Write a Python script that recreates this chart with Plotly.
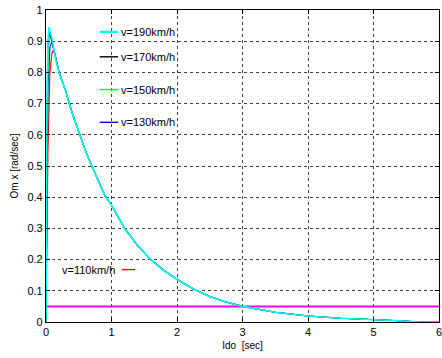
import plotly.graph_objects as go

# shared decay tail (x in sec, y in rad/sec)
tail_x = [0.2, 0.3, 0.4, 0.5, 0.6, 0.7, 0.8, 0.9, 1.0, 1.2, 1.4, 1.6, 1.8, 2.0,
          2.25, 2.5, 2.75, 3.0, 3.5, 4.0, 4.5, 5.0, 5.4, 5.7, 6.0]
tail_y = [0.80, 0.74, 0.67, 0.61, 0.55, 0.50, 0.45, 0.405, 0.375, 0.30, 0.245, 0.20,
          0.165, 0.137, 0.106, 0.082, 0.064, 0.050, 0.031, 0.019, 0.012, 0.008,
          0.004, 0.0, 0.0]

labels = ["v=110km/h", "v=130km/h", "v=150km/h", "v=170km/h", "v=190km/h"]
colors = ["#ff0000", "#0000ff", "#00ff00", "#000000", "#00ffff"]

head_x_110 = [0.0, 0.01, 0.03, 0.06, 0.09, 0.12, 0.16]
head_y_110 = [0.0, 0.20, 0.55, 0.80, 0.86, 0.875, 0.84]
head_x_130 = [0.0, 0.01, 0.03, 0.06, 0.09, 0.13, 0.16]
head_y_130 = [0.0, 0.30, 0.75, 0.88, 0.90, 0.86, 0.83]
head_x_150 = [0.0, 0.01, 0.03, 0.055, 0.09, 0.13, 0.16]
head_y_150 = [0.0, 0.40, 0.85, 0.925, 0.90, 0.86, 0.83]
head_x_170 = [0.0, 0.008, 0.025, 0.05, 0.09, 0.13, 0.16]
head_y_170 = [0.0, 0.45, 0.88, 0.935, 0.90, 0.86, 0.83]
head_x_190 = [0.0, 0.005, 0.015, 0.03, 0.045, 0.09, 0.13, 0.16]
head_y_190 = [0.0, 0.30, 0.70, 0.90, 0.945, 0.91, 0.86, 0.83]

heads = [(head_x_110, head_y_110), (head_x_130, head_y_130), (head_x_150, head_y_150),
         (head_x_170, head_y_170), (head_x_190, head_y_190)]

threshold = 0.05
x_ticks = [0, 1, 2, 3, 4, 5, 6]
y_ticks = [0, 0.1, 0.2, 0.3, 0.4, 0.5, 0.6, 0.7, 0.8, 0.9, 1]

fig = go.Figure()
fig.add_trace(go.Scatter(x=[0, 6], y=[threshold, threshold], mode="lines",
                         line=dict(color="#ff00ff", width=2), showlegend=False))
for (hx, hy), c, lab in zip(heads, colors, labels):
    fig.add_trace(go.Scatter(x=hx + tail_x, y=hy + tail_y, mode="lines", name=lab,
                             line=dict(color=c, width=1.6 if c == "#00ffff" else 1.1),
                             showlegend=False))

# in-plot legend (line sample + label)
leg = [  # label, color, sample x0, x1, y, text x, anchor
    ("v=190km/h", "#00ffff", 0.82, 1.1, 0.93, 1.1, "left"),
    ("v=170km/h", "#000000", 0.82, 1.1, 0.85, 1.1, "left"),
    ("v=150km/h", "#00ff00", 0.82, 1.1, 0.745, 1.1, "left"),
    ("v=130km/h", "#0000ff", 0.82, 1.1, 0.64, 1.1, "left"),
    ("v=110km/h", "#ff0000", 1.16, 1.36, 0.168, 1.08, "right"),
]
for lab, c, x0, x1, yy, tx, anc in leg:
    fig.add_shape(type="line", x0=x0, x1=x1, y0=yy, y1=yy, xref="x", yref="y",
                  line=dict(color=c, width=2.2 if c == "#00ffff" else 1.4))
    fig.add_annotation(x=tx, y=yy, xref="x", yref="y", text=lab, showarrow=False,
                       xanchor=anc, yanchor="middle", xshift=1 if anc == "left" else 0,
                       font=dict(family="Liberation Sans, Arial", size=11, color="black"))

axis_common = dict(showline=True, linecolor="black", linewidth=1.2, mirror="ticks",
                   ticks="inside", ticklen=4, tickcolor="black",
                   showgrid=True, gridcolor="#444444", gridwidth=1, griddash="dot",
                   zeroline=False, ticklabeloverflow="allow",
                   tickfont=dict(family="Liberation Sans, Arial", size=11, color="black"))

fig.update_xaxes(range=[0, 6], tickvals=x_ticks, ticktext=[str(v) for v in x_ticks],
                 title=dict(text="Ido  [sec]", standoff=4,
                            font=dict(family="Liberation Sans, Arial", size=10, color="black")),
                 **axis_common)
fig.update_yaxes(range=[0, 1], tickvals=y_ticks, ticktext=[("%g" % v) for v in y_ticks],
                 title=dict(text="Om x [rad/sec]", standoff=6,
                            font=dict(family="Liberation Sans, Arial", size=10, color="black")),
                 **axis_common)

fig.update_layout(width=442, height=358, margin=dict(l=46, r=0, t=10, b=36),
                  paper_bgcolor="white", plot_bgcolor="white")
fig.write_html("out.html")
